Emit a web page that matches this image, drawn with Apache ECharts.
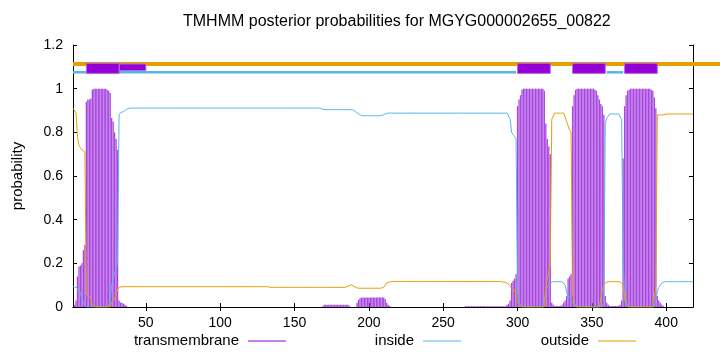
<!DOCTYPE html>
<html>
<head>
<meta charset="utf-8">
<script src="https://cdn.jsdelivr.net/npm/echarts@6/dist/echarts.min.js"></script>
<style>html,body{margin:0;padding:0;background:#fff}#c{width:720px;height:352px}</style>
</head>
<body>
<div id="c"></div>
<script>
// ---- data (single numbers = one residue, [v, n] = value v repeated for n residues) ----
const seqLength = 418;
const xTickValues = [50, 100, 150, 200, 250, 300, 350, 400];
const seriesNames = ['transmembrane', 'inside', 'outside'];
const tmRuns = [0, 0.01, 0.03, 0.14, 0.185, 0.19, 0.2, 0.26, 0.285, 0.94, 0.95, 0.95, 0.955, 0.995,
  [1, 9], 0.995, 0.99, 0.98, 0.866, 0.85, 0.8, 0.77, 0.72, 0.03, 0.02, 0.02, 0.015, 0.01, 0.005,
  [0, 131], 0.005, [0.01, 17], 0.005, [0, 4], 0.02, 0.032, 0.04, [0.043, 16], 0.035, 0.02, 0.01, 0.005,
  [0, 50], [0.004, 28], 0.01, 0.015, 0.03, 0.11, 0.12, 0.13, 0.15, 0.92, 0.95, 0.97, 0.995,
  [1, 14], 0.99, 0.84, 0.77, 0.735, 0.70, 0.02, 0.01, [0.005, 5], 0.01, 0.02, 0.03, 0.05, 0.13, 0.14, 0.15,
  0.92, 0.97, 0.995, [1, 12], 0.995, 0.99, 0.97, 0.95, 0.93, 0.92, 0.88, 0.05, 0.02, 0.01, [0.005, 7],
  0.01, 0.03, 0.68, 0.92, 0.97, 0.99, 0.995, [1, 14], 0.995, 0.99, 0.96, 0.91, 0.05, 0.03, 0.02, 0.01, 0.005,
  [0, 20]];
const insideRuns = [0.093, 0.093, 0.09, 0.088, 0.08, 0.063, 0.04, 0.02, 0.01, [0, 15],
  0.01, 0.02, 0.1, 0.13, 0.155, 0.18, 0.2, 0.88, 0.89, 0.895, 0.895, 0.9, 0.905, 0.91,
  [0.911, 130], 0.906, [0.904, 20], 0.9, 0.895, 0.89, 0.885, 0.88, 0.877, [0.876, 13],
  0.878, 0.88, 0.884, 0.887, [0.888, 82], 0.86, 0.8, 0.79, 0.78, 0.77, 0.06, 0.02, 0.01, [0, 16],
  0.07, 0.09, 0.1, 0.11, 0.115, [0.116, 8], 0.1, 0.1, 0.04, 0.05, 0.05, 0.02, 0.01, [0, 19],
  0.02, 0.84, 0.865, 0.874, [0.884, 7], 0.875, 0.86, 0.22, 0.03, 0.01, [0, 20],
  0.07, 0.09, 0.1, 0.11, 0.115, [0.116, 20]];
const outsideRuns = [0.91, 0.91, 0.89, 0.78, 0.74, 0.73, 0.72, 0.715, 0.71, 0.06, 0.05, 0.05, 0.045, 0.005,
  [0, 12], 0.02, 0.03, 0.04, 0.06, 0.08, 0.09, [0.093, 101], [0.09, 52],
  0.095, 0.1, 0.102, 0.1, 0.095, 0.09, 0.087, [0.086, 17], 0.09, 0.1, 0.11, 0.112, 0.115,
  [0.117, 75], 0.115, 0.114, 0.113, 0.112, 0.105, 0.095, 0.085, 0.08, 0.078, 0.075, 0.024, 0.01,
  [0, 17], 0.08, 0.13, 0.16, 0.19, 0.86, 0.875, [0.888, 7], 0.87, 0.85, 0.83, 0.81, 0.8, 0.06, 0.02, 0.005,
  [0, 17], 0.08, 0.1, 0.11, 0.115, [0.116, 9], 0.11, 0.1, 0.05, 0.02, 0.01, [0, 18],
  0.09, [0.88, 5], [0.884, 20]];
// predicted topology segments (residue ranges)
const tmSegments = [[10, 32], [300, 322], [337, 359], [372, 394]];
const tmExtraSegments = [[32, 50]];
const insideSegments = [[1, 299], [360, 371]];
const outsideSegments = [[1, 437]];

// ---- helpers ----
function expand(runs) {
  const out = [];
  runs.forEach(r => {
    if (Array.isArray(r)) { for (let i = 0; i < r[1]; i++) out.push(r[0]); }
    else out.push(r);
  });
  return out;
}
function toXY(arr) { return arr.map((v, i) => [i + 1, v]); }

const tm = expand(tmRuns), inside = expand(insideRuns), outside = expand(outsideRuns);
const FONT = 'Liberation Sans';
const PURPLE = '#9400d3', BLUE = '#56b4e9', ORANGE = '#e69f00';
const seriesColors = [PURPLE, BLUE, ORANGE];

function segLine(color, level, width) {
  return function (params, api) {
    const a = api.coord([api.value(0), level]);
    const b = api.coord([api.value(1), level]);
    return { type: 'line', shape: { x1: a[0], y1: a[1], x2: b[0], y2: b[1] },
      style: { stroke: color, lineWidth: width, lineCap: 'butt' } };
  };
}
function segBox(lo, hi) {
  return function (params, api) {
    const a = api.coord([api.value(0), hi]);
    const b = api.coord([api.value(1), lo]);
    return { type: 'rect', shape: { x: a[0], y: a[1], width: b[0] - a[0], height: b[1] - a[1] },
      style: { fill: PURPLE, stroke: '#b866e6', lineWidth: 1 } };
  };
}

// key (gnuplot style: text right-aligned, sample line to its right)
const keyGraphics = [];
seriesNames.forEach((name, i) => {
  const textRight = 239 + 175 * i;
  keyGraphics.push({ type: 'text', x: textRight, y: 341,
    style: { text: name, align: 'right', verticalAlign: 'middle', fill: '#000',
      font: '15px "' + FONT + '"' } });
  keyGraphics.push({ type: 'line', shape: { x1: textRight + 9, y1: 341, x2: textRight + 47, y2: 341 },
    style: { stroke: seriesColors[i], lineWidth: 1 } });
});

const chart = echarts.init(document.getElementById('c'), null, { renderer: 'canvas' });
const axisCommon = { lineStyle: { color: '#000', width: 1 } };

chart.setOption({
  animation: false,
  backgroundColor: '#fff',
  title: { text: 'TMHMM posterior probabilities for MGYG000002655_00822', left: 183, top: 14, padding: 0,
    textStyle: { fontSize: 16, fontWeight: 'normal', color: '#000', fontFamily: FONT } },
  grid: { left: 73, right: 27, top: 45, bottom: 45, show: false },
  graphic: keyGraphics,
  xAxis: [
    { type: 'value', min: 1, max: seqLength, position: 'bottom',
      axisLine: Object.assign({ show: true }, axisCommon),
      axisTick: { show: true, inside: true, length: 4, customValues: xTickValues, lineStyle: { color: '#000' } },
      axisLabel: { customValues: xTickValues, margin: 9, fontSize: 14, color: '#000', fontFamily: FONT },
      splitLine: { show: false } },
    { type: 'value', min: 1, max: seqLength, position: 'top',
      axisLine: Object.assign({ show: true }, axisCommon),
      axisTick: { show: true, inside: true, length: 4, customValues: xTickValues, lineStyle: { color: '#000' } },
      axisLabel: { show: false }, splitLine: { show: false } }
  ],
  yAxis: [
    { type: 'value', min: 0, max: 1.2, interval: 0.2, position: 'left',
      name: 'probability', nameLocation: 'middle', nameGap: 48, nameRotate: 90,
      nameTextStyle: { fontSize: 15, color: '#000', fontFamily: FONT },
      axisLine: Object.assign({ show: true }, axisCommon),
      axisTick: { show: true, inside: true, length: 4, lineStyle: { color: '#000' } },
      axisLabel: { margin: 10, fontSize: 14, color: '#000', fontFamily: FONT,
        formatter: v => String(+v.toFixed(1)) },
      splitLine: { show: false } },
    { type: 'value', min: 0, max: 1.2, interval: 0.2, position: 'right',
      axisLine: Object.assign({ show: true }, axisCommon),
      axisTick: { show: true, inside: true, length: 4, lineStyle: { color: '#000' } },
      axisLabel: { show: false }, splitLine: { show: false } }
  ],
  series: [
    { name: seriesNames[0], type: 'bar', xAxisIndex: 0, yAxisIndex: 0, data: toXY(tm),
      barWidth: 1.3, itemStyle: { color: '#a846e0' }, silent: true },
    { name: seriesNames[1], type: 'line', xAxisIndex: 0, yAxisIndex: 0, data: toXY(inside),
      showSymbol: false, symbol: 'none', lineStyle: { color: BLUE, width: 1 }, itemStyle: { color: BLUE } },
    { name: seriesNames[2], type: 'line', xAxisIndex: 0, yAxisIndex: 0, data: toXY(outside),
      showSymbol: false, symbol: 'none', lineStyle: { color: ORANGE, width: 1 }, itemStyle: { color: ORANGE } },
    { type: 'custom', xAxisIndex: 0, yAxisIndex: 0, data: outsideSegments, clip: false,
      renderItem: segLine(ORANGE, 1.113, 4), silent: true },
    { type: 'custom', xAxisIndex: 0, yAxisIndex: 0, data: insideSegments, clip: false,
      renderItem: segLine(BLUE, 1.075, 2.5), silent: true },
    { type: 'custom', xAxisIndex: 0, yAxisIndex: 0, data: tmExtraSegments, clip: false,
      renderItem: segBox(1.083, 1.113), silent: true },
    { type: 'custom', xAxisIndex: 0, yAxisIndex: 0, data: tmSegments, clip: false,
      renderItem: segBox(1.07, 1.116), silent: true }
  ]
});
</script>
</body>
</html>
